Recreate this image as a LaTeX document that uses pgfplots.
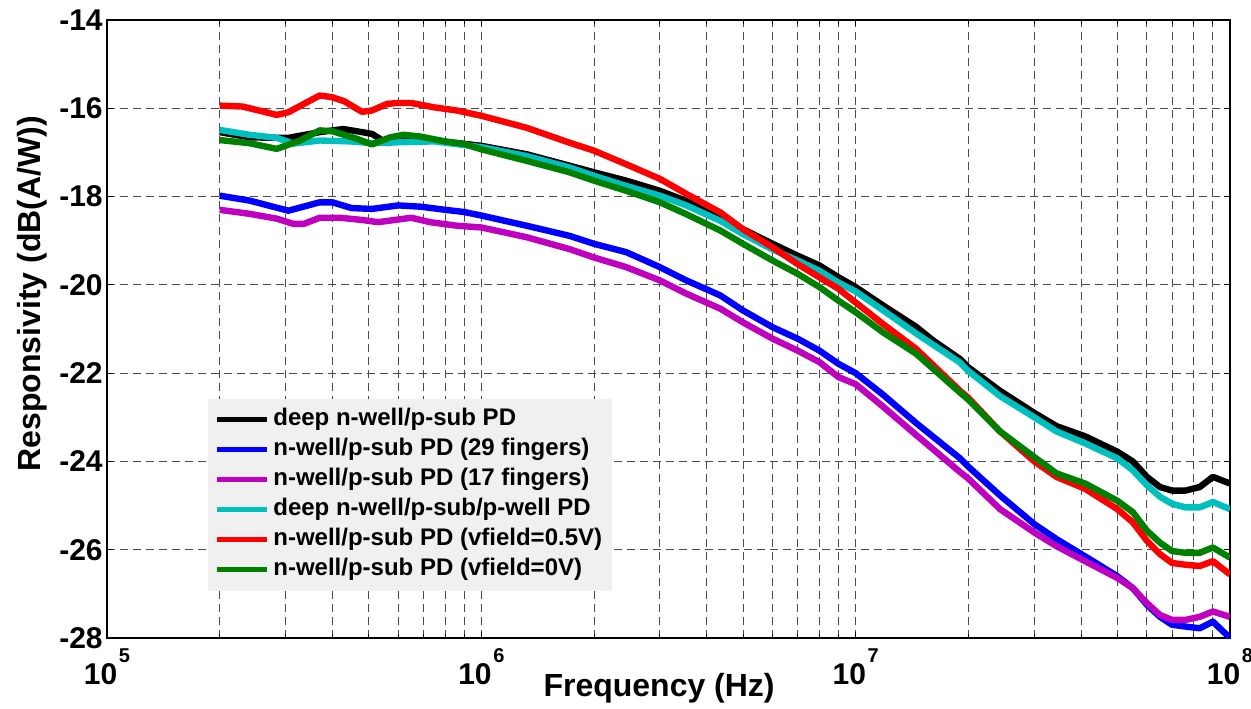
\documentclass[border=0pt]{standalone}
\usepackage{pgfplots}
\pgfplotsset{compat=1.18}
\usepackage{fontspec}
\setmainfont{Liberation Sans}
\definecolor{cmag}{rgb}{0.75,0,0.75}
\definecolor{ccyan}{rgb}{0,0.75,0.75}
\definecolor{cgreen}{rgb}{0,0.5,0}
\definecolor{legbg}{rgb}{0.94,0.94,0.94}
\newcommand{\tp}[1]{10\hspace{0.8pt}\raisebox{11pt}{\fontsize{10}{10}\selectfont\bfseries #1}}
\begin{document}
\begin{tikzpicture}
\begin{axis}[
  scale only axis,
  width=561.5pt, height=309pt,
  xmode=log, xmin=1e5, xmax=1e8, ymin=-28, ymax=-14,
  xtick={1e5,1e6,1e7,1e8},
  xticklabels={\tp{5},\tp{6},\tp{7},\tp{8}},
  ytick={-28,-26,-24,-22,-20,-18,-16,-14},
  yticklabels={-28,-26,-24,-22,-20,-18,-16,-14},
  tick label style={font=\fontsize{15}{17}\selectfont\bfseries},
  xticklabel style={inner sep=0pt, anchor=north, yshift=-5pt},
  yticklabel style={inner sep=2pt},
  axis line style={line width=0.8pt},
  major tick length=3pt, minor tick length=2pt,
  tick style={black, line width=0.5pt},
  grid=both,
  major grid style={black!70, line width=0.5pt, dash pattern=on 4pt off 2.5pt},
  minor grid style={black!70, line width=0.5pt, dash pattern=on 4pt off 2.5pt},
  xlabel={Frequency (Hz)},
  ylabel={Responsivity (dB(A/W))},
  label style={font=\fontsize{16}{18}\selectfont\bfseries},
  xlabel style={at={(axis description cs:0.4916,-0.0566)}, anchor=north, inner sep=0pt},
  ylabel style={at={(axis description cs:-0.0534,0.557)}, anchor=south, rotate=0, inner sep=0pt},
  legend style={at={(axis description cs:0.0899,0.388)}, anchor=north west,
    fill=legbg, draw=none, inner xsep=3pt, inner ysep=3pt,
    font=\fontsize{12}{13}\selectfont\bfseries,
    nodes={text height=8.5pt, text depth=2.5pt, inner sep=2pt}},
  legend cell align=left,
  legend image code/.code={\draw[#1, line width=2.5pt] (0pt,0pt) -- (25pt,0pt);},
  every axis plot/.append style={line width=3.2pt, line join=round},
]
\addplot[black] coordinates {
(2e5,-16.54) (2.41e5,-16.66) (3.05e5,-16.67) (3.7e5,-16.54) (4.28e5,-16.47) (4.8e5,-16.54) (5.1e5,-16.58) (5.6e5,-16.79) (6e5,-16.73) (7.5e5,-16.73) (1e6,-16.85) (1.32e6,-17.04) (1.72e6,-17.3) (2e6,-17.45) (2.44e6,-17.64) (3e6,-17.87) (3.53e6,-18.1) (4.35e6,-18.47) (5e6,-18.74) (6e6,-19.07) (7e6,-19.34) (8e6,-19.56) (9e6,-19.83) (1e7,-20.05) (1.18e7,-20.46) (1.45e7,-20.95) (1.61e7,-21.26) (1.9e7,-21.68) (2e7,-21.87) (2.43e7,-22.4) (3e7,-22.9) (3.44e7,-23.2) (4.1e7,-23.43) (5e7,-23.78) (5.5e7,-24.0) (6e7,-24.35) (6.5e7,-24.58) (7e7,-24.66) (7.6e7,-24.66) (8.3e7,-24.58) (9e7,-24.35) (1e8,-24.5)
};
\addlegendentry{deep n-well/p-sub PD}
\addplot[blue] coordinates {
(2e5,-17.98) (2.4e5,-18.09) (3.05e5,-18.32) (3.7e5,-18.13) (4e5,-18.13) (4.5e5,-18.26) (5.1e5,-18.28) (6e5,-18.2) (6.9e5,-18.23) (8e5,-18.3) (9e5,-18.35) (1e6,-18.43) (1.32e6,-18.66) (1.72e6,-18.89) (2e6,-19.07) (2.44e6,-19.26) (3e6,-19.6) (3.53e6,-19.9) (4.35e6,-20.24) (5e6,-20.58) (6e6,-20.96) (7e6,-21.22) (8e6,-21.49) (9e6,-21.79) (1e7,-22.0) (1.18e7,-22.48) (1.45e7,-23.13) (1.9e7,-23.93) (2e7,-24.12) (2.43e7,-24.77) (3e7,-25.42) (3.44e7,-25.76) (4.1e7,-26.15) (5e7,-26.6) (5.5e7,-26.87) (6e7,-27.25) (6.5e7,-27.52) (7e7,-27.7) (7.6e7,-27.74) (8.3e7,-27.78) (9e7,-27.63) (1e8,-28.0)
};
\addlegendentry{n-well/p-sub PD (29 fingers)}
\addplot[cmag] coordinates {
(2e5,-18.3) (2.4e5,-18.39) (2.84e5,-18.5) (3.15e5,-18.62) (3.35e5,-18.62) (3.7e5,-18.48) (4.2e5,-18.48) (4.8e5,-18.53) (5.3e5,-18.58) (6.5e5,-18.48) (7.3e5,-18.58) (8.6e5,-18.66) (1e6,-18.7) (1.32e6,-18.92) (1.72e6,-19.19) (2e6,-19.38) (2.44e6,-19.6) (3e6,-19.9) (3.53e6,-20.2) (4.35e6,-20.54) (5e6,-20.85) (6e6,-21.22) (7e6,-21.49) (8e6,-21.75) (9e6,-22.09) (1e7,-22.25) (1.18e7,-22.75) (1.45e7,-23.4) (1.9e7,-24.24) (2e7,-24.39) (2.43e7,-25.08) (3e7,-25.61) (3.44e7,-25.92) (4.1e7,-26.26) (5e7,-26.64) (5.5e7,-26.87) (6e7,-27.21) (6.5e7,-27.48) (7e7,-27.59) (7.6e7,-27.59) (8.3e7,-27.52) (9e7,-27.4) (1e8,-27.52)
};
\addlegendentry{n-well/p-sub PD (17 fingers)}
\addplot[ccyan] coordinates {
(2e5,-16.49) (2.4e5,-16.6) (2.84e5,-16.67) (3.15e5,-16.8) (3.7e5,-16.73) (4.46e5,-16.75) (5.1e5,-16.79) (6e5,-16.77) (7.5e5,-16.75) (1e6,-16.88) (1.32e6,-17.08) (1.72e6,-17.34) (2e6,-17.53) (2.44e6,-17.76) (3e6,-17.98) (3.53e6,-18.2) (4.35e6,-18.55) (5e6,-18.85) (6e6,-19.2) (7e6,-19.45) (8e6,-19.68) (9e6,-19.95) (1e7,-20.15) (1.18e7,-20.57) (1.45e7,-21.1) (1.9e7,-21.76) (2e7,-21.95) (2.43e7,-22.52) (3e7,-23.0) (3.44e7,-23.32) (4.1e7,-23.59) (5e7,-23.93) (5.5e7,-24.2) (6e7,-24.54) (6.5e7,-24.8) (7e7,-24.96) (7.6e7,-25.04) (8.3e7,-25.04) (9e7,-24.92) (1e8,-25.08)
};
\addlegendentry{deep n-well/p-sub/p-well PD}
\addplot[red] coordinates {
(2e5,-15.94) (2.3e5,-15.96) (2.84e5,-16.15) (3.05e5,-16.09) (3.7e5,-15.71) (4e5,-15.75) (4.3e5,-15.84) (4.8e5,-16.08) (5.1e5,-16.05) (5.6e5,-15.9) (6e5,-15.88) (6.5e5,-15.88) (7.5e5,-15.98) (8.6e5,-16.05) (1e6,-16.17) (1.32e6,-16.44) (1.72e6,-16.78) (2e6,-16.96) (2.44e6,-17.27) (3e6,-17.6) (3.53e6,-17.94) (4.35e6,-18.36) (5e6,-18.74) (6e6,-19.15) (7e6,-19.53) (8e6,-19.83) (9e6,-20.09) (1e7,-20.4) (1.18e7,-20.88) (1.45e7,-21.45) (1.9e7,-22.4) (2e7,-22.56) (2.43e7,-23.32) (3e7,-24.0) (3.44e7,-24.35) (4.1e7,-24.62) (5e7,-25.08) (5.5e7,-25.38) (6e7,-25.8) (6.5e7,-26.1) (7e7,-26.3) (7.6e7,-26.34) (8.3e7,-26.37) (9e7,-26.26) (1e8,-26.56)
};
\addlegendentry{n-well/p-sub PD (vfield=0.5V)}
\addplot[cgreen] coordinates {
(2e5,-16.72) (2.4e5,-16.79) (2.84e5,-16.92) (3.28e5,-16.73) (3.7e5,-16.5) (4e5,-16.52) (4.65e5,-16.69) (5.1e5,-16.82) (5.7e5,-16.66) (6.2e5,-16.6) (6.87e5,-16.64) (8e5,-16.75) (9e5,-16.81) (1e6,-16.93) (1.32e6,-17.19) (1.72e6,-17.45) (2e6,-17.64) (2.44e6,-17.87) (3e6,-18.13) (3.53e6,-18.4) (4.35e6,-18.77) (5e6,-19.07) (6e6,-19.45) (7e6,-19.75) (8e6,-20.05) (9e6,-20.36) (1e7,-20.62) (1.18e7,-21.07) (1.45e7,-21.56) (1.9e7,-22.44) (2e7,-22.6) (2.43e7,-23.32) (3e7,-23.9) (3.44e7,-24.27) (4.1e7,-24.5) (5e7,-24.89) (5.5e7,-25.15) (6e7,-25.57) (6.5e7,-25.84) (7e7,-26.03) (7.6e7,-26.07) (8.3e7,-26.07) (9e7,-25.95) (1e8,-26.18)
};
\addlegendentry{n-well/p-sub PD (vfield=0V)}
\end{axis}
\pgfresetboundingbox
\path ([shift={(-53.5pt,-35pt)}]current axis.south west) rectangle ([shift={(10.5pt,10pt)}]current axis.north east);
\end{tikzpicture}
\end{document}
